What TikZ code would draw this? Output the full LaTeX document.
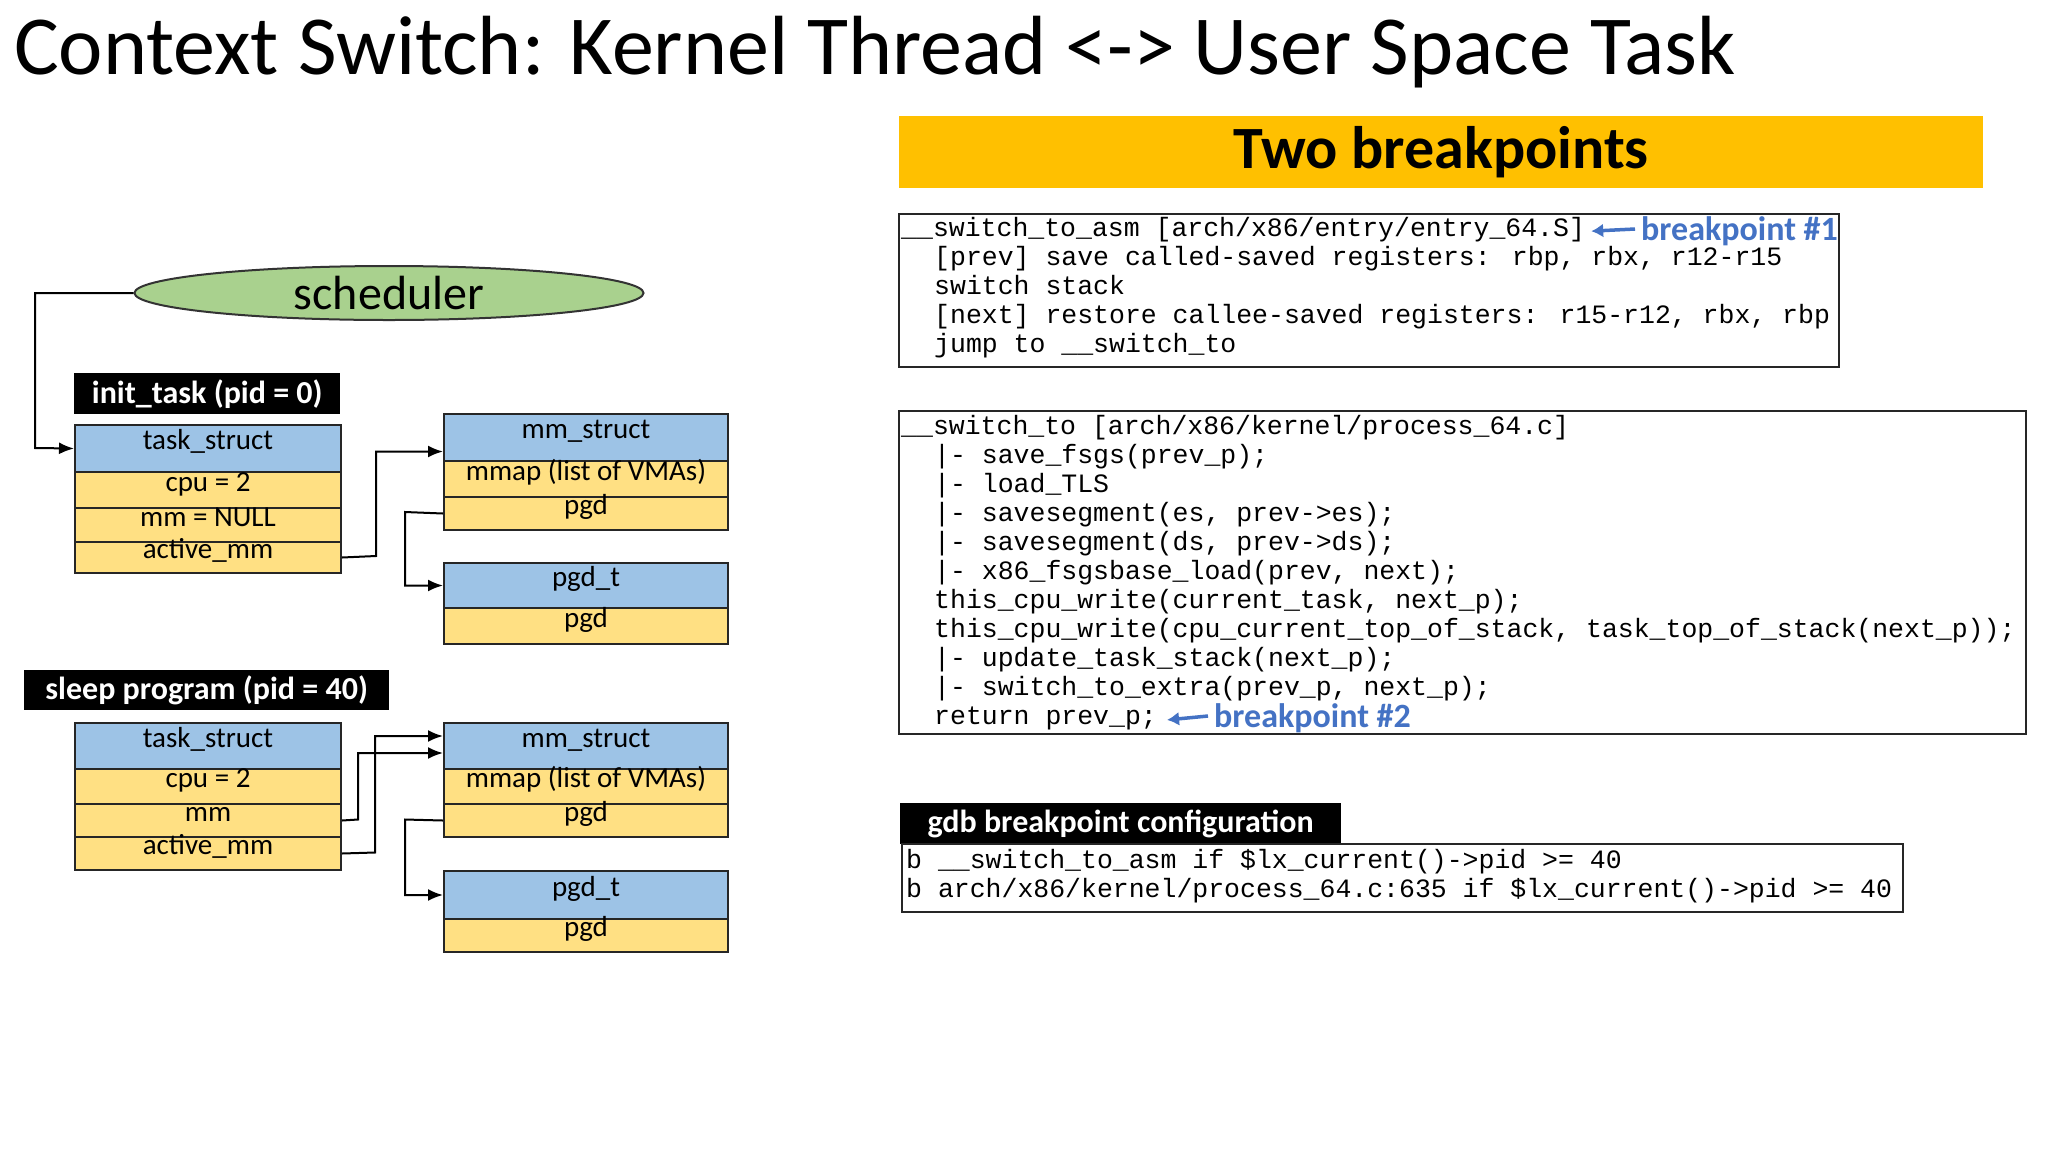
\documentclass[tikz,border=0pt]{standalone}
\usepackage{fontspec}
\setmainfont{Carlito}
\newfontfamily\codefont{Liberation Mono}
\usetikzlibrary{shapes.geometric,arrows.meta}
\definecolor{cblue}{HTML}{9DC3E6}
\definecolor{cyel}{HTML}{FFE083}
\definecolor{cgreen}{HTML}{A9D18E}
\definecolor{cgold}{HTML}{FFC000}
\definecolor{bpblue}{HTML}{4472C4}
\tikzset{
 cell/.style={draw=black!85, line width=2pt, inner sep=0pt, font=\fontsize{29}{32}\selectfont, text depth=0.3em, text height=0.5em},
 hdr/.style={cell, fill=cblue},
 fld/.style={cell, fill=cyel},
 blk/.style={fill=black, text=white, inner sep=0pt, font=\bfseries\fontsize{32}{35}\selectfont},
 code/.style={anchor=base west, inner sep=0pt, font=\codefont\fontsize{26.5}{28}\selectfont},
 cbox/.style={draw=black!85, line width=2pt},
 conn/.style={line width=2pt, -{Latex[length=15pt,width=12pt]}},
 bp/.style={anchor=base west, inner sep=0pt, text=bpblue, font=\bfseries\fontsize{34}{37}\selectfont},
 bparr/.style={bpblue, line width=3.5pt, -{Latex[length=12pt,width=14pt]}}
}
\begin{document}
\begin{tikzpicture}[x=1pt,y=-1pt]
\useasboundingbox (0,0) rectangle (2048,1152);
\fill[white] (0,0) rectangle (2048,1152);
% title
\node[anchor=base west, inner sep=0pt, font=\fontsize{84}{92}\selectfont] (title) at (14,74) {Context Switch: Kernel Thread <-> User Space Task};
% banner
\node[fill=cgold, minimum width=1084pt, minimum height=72pt, inner sep=0pt, anchor=north west, font=\bfseries\fontsize{60}{64}\selectfont] (banner) at (899,116) {Two breakpoints};
% scheduler
\node[ellipse, draw=black!80, line width=2pt, fill=cgreen, minimum width=509pt, minimum height=54pt, inner sep=0pt, font=\fontsize{48}{50}\selectfont] (sched) at (389,293) {scheduler};
% init task
\node[blk, minimum width=266pt, minimum height=41pt, anchor=north west] (initl) at (74,373) {init\_task (pid = 0)};
\node[hdr, minimum width=266pt, minimum height=47pt, anchor=north west] (t1h) at (74,424) {task\_struct};
\node[fld, minimum width=266pt, minimum height=36pt, anchor=north west] (t1a) at (74,471) {cpu = 2};
\node[fld, minimum width=266pt, minimum height=34pt, anchor=north west] (t1b) at (74,507) {mm = NULL};
\node[fld, minimum width=266pt, minimum height=31pt, anchor=north west] (t1c) at (74,541) {active\_mm};
\node[hdr, minimum width=284pt, minimum height=47pt, anchor=north west] (m1h) at (443,413) {mm\_struct};
\node[fld, minimum width=284pt, minimum height=36pt, anchor=north west] (m1a) at (443,460) {mmap (list of VMAs)};
\node[fld, minimum width=284pt, minimum height=33pt, anchor=north west] (m1b) at (443,496) {pgd};
\node[hdr, minimum width=284pt, minimum height=45pt, anchor=north west] (p1h) at (443,562) {pgd\_t};
\node[fld, minimum width=284pt, minimum height=36pt, anchor=north west] (p1a) at (443,607) {pgd};
\draw[conn] (sched.west) -| (35,448) -- (t1h.west);
\draw[conn] (t1c.east) -- (376,556) |- ([yshift=-14pt]m1h.west);
\draw[conn] (m1b.west) -- (405,512) |- (p1h.west);
% sleep program
\node[blk, minimum width=365pt, minimum height=40pt, anchor=north west] (sleepl) at (24,670) {sleep program (pid = 40)};
\node[hdr, minimum width=266pt, minimum height=46pt, anchor=north west] (t2h) at (74,722) {task\_struct};
\node[fld, minimum width=266pt, minimum height=35pt, anchor=north west] (t2a) at (74,768) {cpu = 2};
\node[fld, minimum width=266pt, minimum height=33pt, anchor=north west] (t2b) at (74,803) {mm};
\node[fld, minimum width=266pt, minimum height=33pt, anchor=north west] (t2c) at (74,836) {active\_mm};
\node[hdr, minimum width=284pt, minimum height=46pt, anchor=north west] (m2h) at (443,722) {mm\_struct};
\node[fld, minimum width=284pt, minimum height=35pt, anchor=north west] (m2a) at (443,768) {mmap (list of VMAs)};
\node[fld, minimum width=284pt, minimum height=33pt, anchor=north west] (m2b) at (443,803) {pgd};
\node[hdr, minimum width=284pt, minimum height=48pt, anchor=north west] (p2h) at (443,870) {pgd\_t};
\node[fld, minimum width=284pt, minimum height=33pt, anchor=north west] (p2a) at (443,918) {pgd};
\draw[conn] (t2b.east) -- (358,819.5) |- ([yshift=-7pt]m2h.west);
\draw[conn] (t2c.east) -- (375,852.5) |- ([yshift=10pt]m2h.west);
\draw[conn] (m2b.west) -- (405,819.5) |- (p2h.west);
% box 1
\draw[cbox] (899,214) rectangle (1839,367);
\node[code] (a1) at (901,236) {\_\_switch\_to\_asm [arch/x86/entry/entry\_64.S]};
\node[code] (a2) at (934,265) {[prev] save called-saved registers: rbp, rbx, r12-r15};
\node[code] (a3) at (934,294) {switch stack};
\node[code] (a4) at (934,323) {[next] restore callee-saved registers: r15-r12, rbx, rbp};
\node[code] (a5) at (934,352) {jump to \_\_switch\_to};
\node[bp] (bp1) at (1641,240) {breakpoint \#1};
\draw[bparr] ([xshift=-6pt,yshift=11pt]bp1.base west) -- ([xshift=6pt,yshift=-2pt]a1.east);
% box 2
\draw[cbox] (899,411) rectangle (2026,734);
\node[code] (b1) at (901,434) {\_\_switch\_to [arch/x86/kernel/process\_64.c]};
\node[code] (b2) at (934,463) {|- save\_fsgs(prev\_p);};
\node[code] (b3) at (934,492) {|- load\_TLS};
\node[code] (b4) at (934,521) {|- savesegment(es, prev->es);};
\node[code] (b5) at (934,550) {|- savesegment(ds, prev->ds);};
\node[code] (b6) at (934,579) {|- x86\_fsgsbase\_load(prev, next);};
\node[code] (b7) at (934,608) {this\_cpu\_write(current\_task, next\_p);};
\node[code] (b8) at (934,637) {this\_cpu\_write(cpu\_current\_top\_of\_stack, task\_top\_of\_stack(next\_p));};
\node[code] (b9) at (934,666) {|- update\_task\_stack(next\_p);};
\node[code] (b10) at (934,695) {|- switch\_to\_extra(prev\_p, next\_p);};
\node[code] (b11) at (934,724) {return prev\_p;};
\node[bp] (bp2) at (1214,727) {breakpoint \#2};
\draw[bparr] ([xshift=-6pt,yshift=11pt]bp2.base west) -- ([xshift=10pt,yshift=-2pt]b11.east);
% gdb
\node[blk, minimum width=441pt, minimum height=41pt, anchor=north west] (gdbl) at (900,803) {gdb breakpoint configuration};
\draw[cbox] (902,844) rectangle (1903,912);
\node[code] (g1) at (906,868) {b \_\_switch\_to\_asm if \$lx\_current()->pid >= 40};
\node[code] (g2) at (906,897) {b arch/x86/kernel/process\_64.c:635 if \$lx\_current()->pid >= 40};
\end{tikzpicture}
\end{document}
